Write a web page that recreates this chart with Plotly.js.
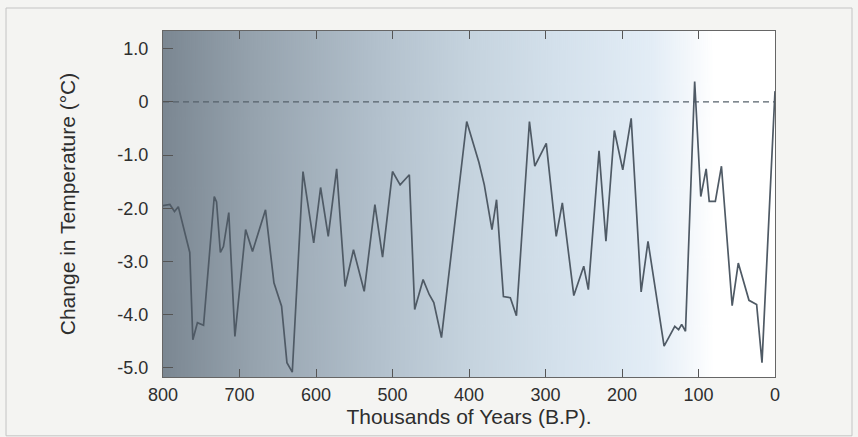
<!DOCTYPE html>
<html>
<head>
<meta charset="utf-8">
<script src="https://cdn.plot.ly/plotly-3.0.1.min.js"></script>
<style>html,body{margin:0;padding:0;background:#f4f4f2;}#chart{width:858px;height:437px;}</style>
</head>
<body>
<div id="chart"></div>
<script>
// Thousands of years before present
var years = [800,791,785,780,765,761,755,747,733,730,725,721,714,706,692,683,666,655,645,638,631,617,603,594,584,573,562,551,537,523,513,500,490,478,471,460,452,446,436,403,387,380,370,364,355,346,338,321,314,299,286,278,263,250,244,230,221,210,199,188,175,166,145,131,126,122,117,105,97,90,86,78,70,56,48,34,24,17,0];
// Change in temperature (°C)
var temps = [-1.95,-1.93,-2.06,-1.97,-2.83,-4.47,-4.15,-4.2,-1.78,-1.88,-2.83,-2.72,-2.08,-4.41,-2.4,-2.81,-2.03,-3.4,-3.84,-4.9,-5.08,-1.31,-2.65,-1.61,-2.53,-1.26,-3.47,-2.78,-3.56,-1.93,-2.92,-1.31,-1.56,-1.37,-3.9,-3.34,-3.62,-3.77,-4.43,-0.37,-1.14,-1.56,-2.4,-1.84,-3.66,-3.68,-4.02,-0.37,-1.21,-0.78,-2.53,-1.9,-3.64,-3.09,-3.53,-0.92,-2.62,-0.54,-1.28,-0.31,-3.57,-2.62,-4.59,-4.22,-4.28,-4.18,-4.31,0.38,-1.78,-1.26,-1.87,-1.87,-1.21,-3.83,-3.03,-3.73,-3.81,-4.9,0.2];
var xTickVals = [800,700,600,500,400,300,200,100,0];
var xTickText = ['800','700','600','500','400','300','200','100','0'];
var yTickVals = [1,0,-1,-2,-3,-4,-5];
var yTickText = ['1.0','0','-1.0','-2.0','-3.0','-4.0','-5.0'];

// background gradient image (style only)
var cv = document.createElement('canvas');
cv.width = 612; cv.height = 10;
var ctx = cv.getContext('2d');
var g = ctx.createLinearGradient(0,0,612,0);
g.addColorStop(0.00,'#7b8792');
g.addColorStop(0.15,'#96a3ae');
g.addColorStop(0.35,'#b2c0cc');
g.addColorStop(0.50,'#c5d3de');
g.addColorStop(0.65,'#d4e1ec');
g.addColorStop(0.80,'#e3edf6');
g.addColorStop(0.87,'#f6f9fc');
g.addColorStop(0.90,'#ffffff');
g.addColorStop(1.00,'#ffffff');
ctx.fillStyle = g; ctx.fillRect(0,0,612,10);
var bgUrl = cv.toDataURL('image/png');

var font = 'Arial, "Liberation Sans", Helvetica, sans-serif';
var trace = {
  x: years, y: temps, type: 'scatter', mode: 'lines',
  line: {color: '#4f5a65', width: 1.7},
  hoverinfo: 'x+y', showlegend: false
};
var layout = {
  width: 858, height: 437,
  margin: {l: 163, r: 83, t: 31, b: 60},
  paper_bgcolor: '#f4f4f2',
  plot_bgcolor: 'rgba(0,0,0,0)',
  font: {family: font, color: '#2e2e2e', size: 18},
  xaxis: {
    range: [800, 0], autorange: false,
    tickvals: xTickVals, ticktext: xTickText,
    ticks: 'inside', ticklen: 8, tickcolor: '#555', tickwidth: 1,
    showline: true, linecolor: '#666', linewidth: 1, mirror: 'ticks',
    showgrid: false, zeroline: false,
    tickfont: {size: 18, color: '#2e2e2e'},
    ticklabelstandoff: 1,
    title: {text: 'Thousands of Years (B.P).', font: {size: 21, color: '#2e2e2e'}, standoff: 4}
  },
  yaxis: {
    range: [-5.17, 1.33], autorange: false,
    tickvals: yTickVals, ticktext: yTickText,
    ticks: 'inside', ticklen: 10, tickcolor: '#555', tickwidth: 1,
    showline: true, linecolor: '#666', linewidth: 1, mirror: true,
    showgrid: false, zeroline: false,
    tickfont: {size: 18, color: '#2e2e2e'},
    ticklabelstandoff: 10,
    title: {text: 'Change in Temperature (°C)', font: {size: 21, color: '#2e2e2e'}, standoff: 36}
  },
  images: [{
    source: bgUrl, xref: 'paper', yref: 'paper', x: 0, y: 1,
    sizex: 1, sizey: 1, xanchor: 'left', yanchor: 'top',
    sizing: 'stretch', layer: 'below'
  }],
  shapes: [
    {type: 'line', xref: 'paper', yref: 'y', x0: 0, x1: 1, y0: 0, y1: 0,
     line: {color: '#56616b', width: 1.3, dash: '6px,4px'}, layer: 'below'},
    {type: 'rect', xref: 'paper', yref: 'paper', x0: -0.2565, x1: 1.1258, y0: -0.17, y1: 1.0665,
     line: {color: '#c4c4c4', width: 1}, fillcolor: 'rgba(0,0,0,0)', layer: 'below'}
  ]
};
Plotly.newPlot('chart', [trace], layout, {displayModeBar: false, staticPlot: true});
</script>
</body>
</html>
